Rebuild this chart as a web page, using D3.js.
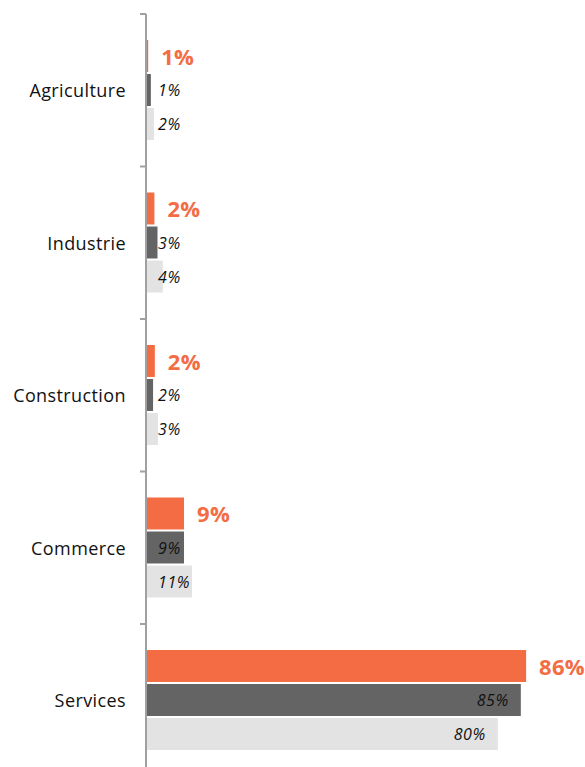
<!DOCTYPE html>
<html>
<head>
<meta charset="utf-8">
<script src="https://cdn.jsdelivr.net/npm/d3@7"></script>
<style>
  body { margin: 0; background: #fff; }
  svg { display: block; font-family: "Open Sans", sans-serif; }
</style>
</head>
<body>
<svg id="chart"></svg>
<script>
// data
const categories = ['Agriculture', 'Industrie', 'Construction', 'Commerce', 'Services']
const series = ['a', 'b', 'c']
const valuesA = [0.5, 1.9, 2.0, 8.6, 86]
const valuesB = [1.1, 2.6, 1.6, 8.6, 84.8]
const valuesC = [1.8, 3.8, 2.7, 10.4, 79.6]
const labelsA = ['1%', '2%', '2%', '9%', '86%']
const labelsB = ['1%', '3%', '2%', '9%', '85%']
const labelsC = ['2%', '4%', '3%', '11%', '80%']

const width = 585, height = 767
const axisX = 146
const colors = ['#F36C44', '#646464', '#E3E3E3']

const svg = d3.select('#chart').attr('width', width).attr('height', height)

const y0 = d3.scaleBand().domain(categories).range([14, 776.5])
const y1 = d3.scaleBand().domain(series).range([26, 126]).paddingInner(0.06)
const x = d3.scaleLinear().domain([0, 100]).range([axisX, axisX + 442])

const rows = categories.map(function (c, i) {
	return {
		cat: c,
		bars: [
			{ s: 'a', v: valuesA[i], label: labelsA[i] },
			{ s: 'b', v: valuesB[i], label: labelsB[i] },
			{ s: 'c', v: valuesC[i], label: labelsC[i] }
		]
	}
})

const group = svg.selectAll('g.cat')
	.data(rows)
	.enter()
	.append('g')
	.attr('class', 'cat')
	.attr('transform', function (d) { return 'translate(0,' + y0(d.cat) + ')' })

group.selectAll('rect')
	.data(function (d) { return d.bars })
	.enter()
	.append('rect')
	.attr('x', x(0))
	.attr('y', function (d) { return y1(d.s) })
	.attr('width', function (d) { return x(d.v) - x(0) })
	.attr('height', y1.bandwidth())
	.attr('fill', function (d, i) { return colors[i] })

// labels
group.selectAll('text.val')
	.data(function (d) { return d.bars })
	.enter()
	.append('text')
	.attr('class', 'val')
	.attr('y', function (d) { return y1(d.s) + y1.bandwidth() / 2 })
	.attr('dy', '0.4em')
	.text(function (d) { return d.label })
	.each(function (d) {
		const t = d3.select(this)
		if (d.s === 'a') {
			t.attr('x', x(d.v) + 13)
				.style('font-size', '22px')
				.style('font-weight', 'bold')
				.style('letter-spacing', '0.3px')
				.style('fill', colors[0])
		} else {
			t.style('font-size', '16px').style('font-style', 'italic')
				.style('letter-spacing', '0.6px').style('fill', '#111')
			const w = this.getComputedTextLength()
			t.attr('x', Math.max(axisX + 12, x(d.v) - 12 - w))
		}
	})

// category labels
group.append('text')
	.attr('x', 126)
	.attr('y', y0.bandwidth() / 2)
	.attr('dy', '0.4em')
	.attr('text-anchor', 'end')
	.style('font-size', '18px')
	.style('letter-spacing', '0.4px')
	.style('fill', '#111')
	.text(function (d) { return d.cat })

// axis
svg.append('line')
	.attr('x1', axisX).attr('x2', axisX)
	.attr('y1', 14).attr('y2', height)
	.attr('stroke', '#A0A0A0').attr('stroke-width', 2)

svg.selectAll('line.tick')
	.data(categories)
	.enter()
	.append('line')
	.attr('class', 'tick')
	.attr('x1', axisX - 6).attr('x2', axisX)
	.attr('y1', function (d) { return y0(d) })
	.attr('y2', function (d) { return y0(d) })
	.attr('stroke', '#A0A0A0').attr('stroke-width', 2)
</script>
</body>
</html>
